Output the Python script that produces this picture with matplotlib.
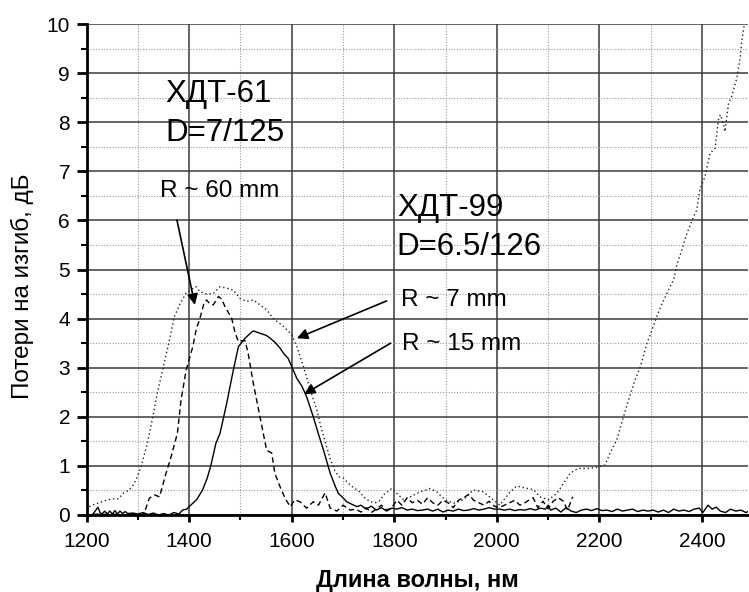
import matplotlib
matplotlib.use("Agg")
import matplotlib.pyplot as plt
from matplotlib.ticker import MultipleLocator

plt.rcParams['font.family'] = ['Liberation Sans', 'DejaVu Sans']

# R ~ 15 mm (ХДТ-99), solid
x_r15 = [1212, 1218, 1222, 1226, 1230, 1235, 1240, 1245, 1250, 1255, 1260, 1265, 1270, 1275, 1280,
         1290, 1300, 1310, 1320, 1330, 1340, 1350, 1360, 1370, 1380, 1387, 1395, 1407, 1415, 1426,
         1435, 1442, 1452, 1460, 1473, 1486, 1496, 1509, 1517, 1525, 1533, 1541, 1550, 1558, 1567,
         1577, 1585, 1593, 1600, 1610, 1620, 1629, 1642, 1652, 1662, 1675, 1685, 1691, 1700, 1707,
         1717, 1727, 1735, 1745, 1755, 1765, 1775, 1785, 1795, 1805, 1815, 1825, 1835, 1845, 1855,
         1865, 1875, 1885, 1895, 1905, 1915, 1925, 1935, 1945, 1955, 1965, 1975, 1985, 1995, 2005,
         2015, 2025, 2035, 2045, 2055, 2065, 2075, 2085, 2095, 2100, 2105, 2115, 2125, 2135, 2145,
         2155, 2165, 2175, 2185, 2195, 2205, 2215, 2225, 2235, 2245, 2255, 2265, 2275, 2285, 2295,
         2305, 2315, 2325, 2335, 2345, 2355, 2365, 2375, 2385, 2395, 2402, 2412, 2420, 2428, 2436,
         2446, 2456, 2466, 2476, 2486, 2490]
y_r15 = [0.02, 0.10, 0.16, 0.05, 0.02, 0.08, 0.02, 0.08, 0.02, 0.09, 0.02, 0.08, 0.03, 0.07, 0.03,
         0.04, 0.02, 0.05, 0.01, 0.04, 0.00, 0.03, 0.00, 0.05, 0.02, 0.10, 0.12, 0.24, 0.32, 0.51,
         0.75, 1.00, 1.46, 1.66, 2.27, 2.95, 3.43, 3.60, 3.68, 3.75, 3.72, 3.69, 3.66, 3.60, 3.52,
         3.40, 3.28, 3.19, 3.02, 2.78, 2.62, 2.41, 2.00, 1.65, 1.32, 0.85, 0.58, 0.44, 0.35, 0.27,
         0.22, 0.17, 0.20, 0.12, 0.18, 0.10, 0.15, 0.08, 0.14, 0.12, 0.15, 0.10, 0.12, 0.09, 0.10,
         0.12, 0.08, 0.12, 0.06, 0.10, 0.08, 0.12, 0.09, 0.10, 0.13, 0.10, 0.12, 0.15, 0.12, 0.12,
         0.10, 0.12, 0.09, 0.11, 0.10, 0.13, 0.10, 0.14, 0.12, 0.20, 0.10, 0.14, 0.06, 0.15, 0.08,
         0.05, 0.10, 0.12, 0.09, 0.13, 0.09, 0.10, 0.07, 0.12, 0.08, 0.10, 0.12, 0.07, 0.10, 0.08,
         0.10, 0.06, 0.10, 0.05, 0.12, 0.08, 0.10, 0.07, 0.12, 0.14, 0.05, 0.20, 0.12, 0.16, 0.08,
         0.05, 0.12, 0.08, 0.10, 0.05, 0.07]

# R ~ 60 mm (ХДТ-61), dashed
x_r60 = [1215, 1230, 1250, 1270, 1290, 1305, 1312, 1322, 1332, 1342, 1355, 1365, 1377, 1384, 1394,
         1407, 1414, 1420, 1429, 1434, 1440, 1447, 1457, 1463, 1470, 1483, 1489, 1496, 1503, 1509,
         1515, 1525, 1538, 1551, 1561, 1567, 1577, 1587, 1597, 1606, 1616, 1629, 1642, 1652, 1665,
         1675, 1688, 1700, 1714, 1725, 1735, 1745, 1755, 1765, 1775, 1785, 1795, 1805, 1815, 1825,
         1835, 1845, 1855, 1865, 1875, 1885, 1895, 1905, 1915, 1925, 1935, 1945, 1955, 1965, 1975,
         1985, 1995, 2005, 2015, 2025, 2035, 2045, 2055, 2065, 2071, 2080, 2090, 2100, 2110, 2120,
         2130, 2138, 2148]
y_r60 = [0.02, 0.01, 0.02, 0.00, 0.02, 0.00, 0.03, 0.34, 0.41, 0.37, 0.86, 1.20, 1.67, 2.34, 2.95,
         3.43, 3.80, 3.97, 4.32, 4.38, 4.30, 4.28, 4.45, 4.40, 4.24, 4.00, 3.73, 3.53, 3.55, 3.55,
         3.29, 2.68, 2.00, 1.32, 1.26, 0.85, 0.58, 0.34, 0.17, 0.31, 0.27, 0.14, 0.27, 0.20, 0.45,
         0.14, 0.08, 0.20, 0.10, 0.12, 0.06, 0.15, 0.05, 0.12, 0.20, 0.10, 0.15, 0.30, 0.20, 0.35,
         0.25, 0.30, 0.22, 0.35, 0.25, 0.20, 0.30, 0.25, 0.15, 0.30, 0.35, 0.42, 0.30, 0.25, 0.20,
         0.28, 0.18, 0.15, 0.20, 0.25, 0.30, 0.20, 0.25, 0.32, 0.35, 0.15, 0.28, 0.13, 0.28, 0.35,
         0.28, 0.10, 0.37]

# R ~ 7 mm (ХДТ-99), dotted
x_r7 = [1205, 1215, 1225, 1238, 1250, 1262, 1272, 1282, 1290, 1296, 1306, 1318, 1329, 1338, 1348,
        1360, 1371, 1382, 1394, 1405, 1413, 1421, 1434, 1447, 1460, 1473, 1486, 1499, 1512, 1525,
        1538, 1551, 1564, 1584, 1600, 1610, 1623, 1636, 1649, 1658, 1668, 1675, 1684, 1692, 1701,
        1710, 1720, 1733, 1740, 1753, 1763, 1773, 1779, 1795, 1805, 1818, 1831, 1850, 1870, 1883,
        1899, 1916, 1935, 1954, 1974, 1993, 2006, 2013, 2026, 2039, 2055, 2071, 2084, 2101, 2117,
        2130, 2143, 2159, 2182, 2198, 2211, 2221, 2234, 2247, 2257, 2268, 2280, 2293, 2302, 2312,
        2322, 2332, 2345, 2351, 2361, 2371, 2384, 2390, 2396, 2406, 2416, 2426, 2432, 2436, 2442,
        2445, 2452, 2458, 2468, 2475, 2478, 2483]
y_r7 = [0.17, 0.22, 0.25, 0.30, 0.33, 0.33, 0.45, 0.50, 0.60, 0.71, 0.98, 1.45, 2.00, 2.50, 2.95,
        3.50, 4.04, 4.30, 4.52, 4.60, 4.65, 4.55, 4.50, 4.51, 4.65, 4.62, 4.58, 4.41, 4.35, 4.38,
        4.28, 4.18, 4.00, 3.84, 3.67, 3.43, 3.02, 2.55, 2.14, 1.75, 1.39, 1.15, 0.90, 0.78, 0.75,
        0.65, 0.56, 0.47, 0.37, 0.27, 0.25, 0.30, 0.41, 0.54, 0.44, 0.31, 0.37, 0.47, 0.54, 0.47,
        0.31, 0.24, 0.31, 0.51, 0.47, 0.31, 0.20, 0.30, 0.47, 0.59, 0.55, 0.52, 0.37, 0.31, 0.44,
        0.64, 0.85, 0.95, 0.95, 0.98, 1.02, 1.26, 1.53, 2.00, 2.34, 2.70, 3.02, 3.50, 3.75, 4.04,
        4.30, 4.52, 4.79, 5.09, 5.40, 5.74, 6.08, 6.21, 6.62, 6.89, 7.37, 7.47, 8.04, 8.15, 7.98,
        7.81, 8.38, 8.52, 8.89, 9.33, 9.67, 10.00]

x_ticks = [1200, 1400, 1600, 1800, 2000, 2200, 2400]
y_ticks = [0, 1, 2, 3, 4, 5, 6, 7, 8, 9, 10]

W, H = 749, 592
fig = plt.figure(figsize=(W / 100, H / 100), dpi=100)
ax = fig.add_axes([86.7 / W, 77 / H, (748 - 86.7) / W, (515 - 24) / H])

ax.set_xlim(1200, 2490)
ax.set_ylim(0, 10)
ax.set_xticks(x_ticks)
ax.set_yticks(y_ticks)
ax.xaxis.set_minor_locator(MultipleLocator(100))
ax.yaxis.set_minor_locator(MultipleLocator(0.5))

ax.grid(True, which='major', color='#3a3a3a', linestyle='-', linewidth=1.1, zorder=0)
ax.grid(True, which='minor', color='#9a9a9a', linestyle=(0, (1, 1.5)), linewidth=0.8, zorder=0)
ax.set_axisbelow(True)

for s in ['top', 'right']:
    ax.spines[s].set_visible(False)
for s in ['left', 'bottom']:
    ax.spines[s].set_linewidth(2)

ax.tick_params(which='major', direction='out', width=2, labelsize=15)
ax.tick_params(which='minor', direction='out', width=1.5)
ax.tick_params(axis='x', which='major', length=5, pad=7)
ax.tick_params(axis='x', which='minor', length=3.5)
ax.tick_params(axis='y', which='major', length=7, pad=5)
ax.tick_params(axis='y', which='minor', length=4.5)

ax.plot(x_r15, y_r15, color='black', linewidth=1.0, linestyle='-', zorder=3)
ax.plot(x_r60, y_r60, color='black', linewidth=1.0, linestyle=(0, (4, 2.5)), zorder=3)
ax.plot(x_r7, y_r7, color='#222222', linewidth=1.0, linestyle=(0, (1, 2)), zorder=3)

ax.set_xlabel('Длина волны, нм', fontsize=17, fontweight='bold', labelpad=13)
ax.set_ylabel('Потери на изгиб, дБ', fontsize=17.5, labelpad=9)
ax.yaxis.label.set_y(0.465)

big = 22.5
small = 17.5
ax.text(1353, 8.41, 'ХДТ-61', fontsize=big, ha='left', va='baseline')
ax.text(1353, 7.62, 'D=7/125', fontsize=big, ha='left', va='baseline')
ax.text(1805, 6.08, 'ХДТ-99', fontsize=big, ha='left', va='baseline')
ax.text(1805, 5.30, 'D=6.5/126', fontsize=big, ha='left', va='baseline')

arrow = dict(arrowstyle='-|>', color='black', lw=1.2, mutation_scale=16, shrinkA=0, shrinkB=0)
ax.text(1343, 6.48, 'R ~ 60 mm', fontsize=small, ha='left', va='baseline')
ax.annotate('', xy=(1411, 4.28), xytext=(1376, 6.01), arrowprops=arrow)
ax.text(1813, 4.26, 'R ~ 7 mm', fontsize=small, ha='left', va='baseline')
ax.annotate('', xy=(1610, 3.6), xytext=(1785, 4.36), arrowprops=arrow)
ax.text(1815, 3.36, 'R ~ 15 mm', fontsize=small, ha='left', va='baseline')
ax.annotate('', xy=(1624, 2.46), xytext=(1793, 3.5), arrowprops=arrow)

fig.savefig('out.png', dpi=100)
